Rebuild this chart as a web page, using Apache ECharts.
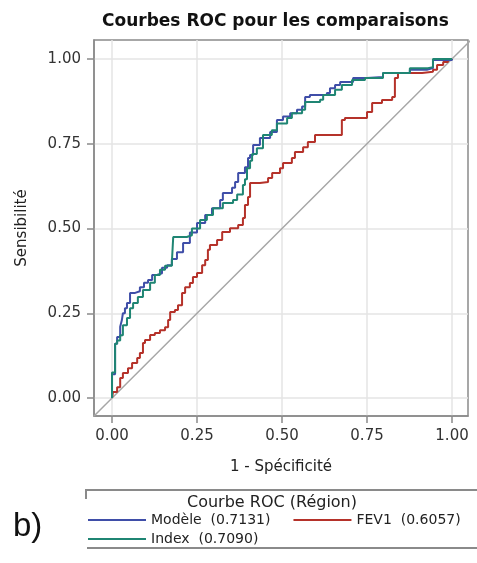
<!DOCTYPE html>
<html>
<head>
<meta charset="utf-8">
<script src="https://cdn.jsdelivr.net/npm/echarts@6/dist/echarts.min.js"></script>
<style>
html,body{margin:0;padding:0;background:#fff;}
#chart{width:477px;height:563px;}
</style>
</head>
<body>
<div id="chart"></div>
<script>
const seriesNames = ['Modèle', 'Index', 'FEV1'];
const aucValues = ['0.7131', '0.7090', '0.6057'];
const tickValues = [0, 0.25, 0.5, 0.75, 1];

const modelePoints = [[0,0],[0,0.07],[0.009,0.16],[0.015,0.18],[0.024,0.21],[0.029,0.23],[0.032,0.25],[0.038,0.265],[0.044,0.28],[0.053,0.31],[0.068,0.315],[0.082,0.327],[0.094,0.34],[0.106,0.348],[0.118,0.363],[0.132,0.368],[0.147,0.384],[0.162,0.392],[0.176,0.41],[0.191,0.43],[0.209,0.457],[0.229,0.488],[0.25,0.516],[0.274,0.54],[0.294,0.56],[0.318,0.584],[0.326,0.605],[0.353,0.62],[0.362,0.637],[0.371,0.664],[0.391,0.681],[0.4,0.708],[0.406,0.717],[0.415,0.746],[0.435,0.767],[0.465,0.785],[0.485,0.82],[0.503,0.83],[0.524,0.84],[0.544,0.85],[0.559,0.86],[0.568,0.888],[0.582,0.894],[0.632,0.9],[0.641,0.914],[0.656,0.923],[0.671,0.932],[0.709,0.944],[0.75,0.947],[0.797,0.959],[0.876,0.968],[0.926,0.973],[0.944,0.997],[1,1]];

const indexPoints = [[0,0],[0,0.075],[0.009,0.16],[0.015,0.17],[0.024,0.185],[0.032,0.215],[0.044,0.236],[0.053,0.265],[0.062,0.28],[0.076,0.298],[0.091,0.319],[0.112,0.34],[0.126,0.363],[0.141,0.378],[0.156,0.39],[0.176,0.40],[0.18,0.475],[0.22,0.48],[0.235,0.5],[0.259,0.525],[0.279,0.54],[0.297,0.56],[0.326,0.575],[0.356,0.584],[0.368,0.6],[0.385,0.628],[0.391,0.645],[0.397,0.678],[0.406,0.70],[0.412,0.72],[0.426,0.737],[0.444,0.776],[0.47,0.79],[0.485,0.81],[0.515,0.826],[0.529,0.84],[0.559,0.85],[0.568,0.873],[0.612,0.88],[0.621,0.894],[0.656,0.909],[0.676,0.923],[0.706,0.938],[0.744,0.944],[0.797,0.959],[0.876,0.973],[0.929,0.976],[0.944,1],[1,1]];

const fev1Points = [[0,0],[0.003,0.018],[0.015,0.032],[0.024,0.059],[0.032,0.074],[0.047,0.088],[0.059,0.103],[0.074,0.118],[0.082,0.133],[0.091,0.162],[0.097,0.171],[0.112,0.186],[0.126,0.192],[0.141,0.2],[0.156,0.209],[0.165,0.23],[0.171,0.254],[0.185,0.26],[0.194,0.274],[0.206,0.31],[0.215,0.327],[0.229,0.339],[0.238,0.357],[0.25,0.369],[0.265,0.392],[0.274,0.407],[0.282,0.437],[0.288,0.451],[0.309,0.466],[0.324,0.49],[0.347,0.501],[0.371,0.51],[0.385,0.531],[0.391,0.569],[0.4,0.593],[0.406,0.634],[0.435,0.637],[0.459,0.649],[0.471,0.664],[0.494,0.678],[0.503,0.693],[0.529,0.708],[0.538,0.726],[0.562,0.74],[0.576,0.755],[0.597,0.776],[0.676,0.82],[0.685,0.826],[0.75,0.844],[0.765,0.87],[0.794,0.879],[0.824,0.888],[0.832,0.944],[0.841,0.959],[0.912,0.962],[0.944,0.968],[0.956,0.982],[0.974,0.991],[0.988,1],[1,1]];

const diagonalPoints = [[-0.06,-0.06],[1.06,1.06]];

const colors = { 'Modèle': '#3f4ea8', 'Index': '#1f8573', 'FEV1': '#b5322a' };
const FONT = 'DejaVu Sans';

const chart = echarts.init(document.getElementById('chart'), null, {renderer: 'canvas'});

function axisCommon(name, min, max) {
  return {
    type: 'value',
    min: min,
    max: max,
    name: name,
    nameLocation: 'middle',
    nameTextStyle: {fontFamily: FONT, fontSize: 15, color: '#222'},
    axisLine: {show: true, onZero: false, lineStyle: {color: '#8a8a8a', width: 1.5}},
    axisTick: {show: true, customValues: tickValues, length: 7, lineStyle: {color: '#8a8a8a', width: 1.5}},
    axisLabel: {customValues: tickValues, fontFamily: FONT, fontSize: 15, color: '#333', margin: 13,
      formatter: v => Number(v).toFixed(2)},
    splitLine: {show: true, lineStyle: {color: '#e4e4e4', width: 1.5}}
  };
}

const lineSeries = [
  {name: 'FEV1', data: fev1Points},
  {name: 'Modèle', data: modelePoints},
  {name: 'Index', data: indexPoints}
].map(s => ({
  type: 'line',
  name: s.name,
  data: s.data,
  step: 'end',
  showSymbol: false,
  symbol: 'none',
  silent: true,
  animation: false,
  lineStyle: {color: colors[s.name], width: 2},
  itemStyle: {color: colors[s.name]},
  z: 3
}));

function legendLabel(name) {
  return name + '  (' + aucValues[seriesNames.indexOf(name)] + ')';
}

const legendBase = {
  orient: 'horizontal',
  icon: 'rect',
  itemWidth: 58,
  itemHeight: 2,
  itemGap: 23,
  padding: 0,
  selectedMode: false,
  formatter: legendLabel,
  textStyle: {fontFamily: FONT, fontSize: 14, color: '#222', padding: [0,0,0,0]}
};

chart.setOption({
  animation: false,
  title: {
    text: 'Courbes ROC pour les comparaisons',
    left: 97,
    top: 8,
    textStyle: {fontFamily: FONT, fontSize: 17, fontWeight: 'bold', color: '#111'}
  },
  grid: {left: 94, top: 40, width: 374, height: 376, show: true, borderColor: '#8a8a8a', borderWidth: 1.5, containLabel: false},
  xAxis: Object.assign(axisCommon('1 - Spécificité', -0.053, 1.047), {nameGap: 44}),
  yAxis: Object.assign(axisCommon('Sensibilité', -0.053, 1.056), {nameGap: 64}),
  legend: [
    Object.assign({}, legendBase, {data: ['Modèle', 'FEV1'], left: 88, top: 513}),
    Object.assign({}, legendBase, {data: ['Index'], left: 88, top: 532})
  ],
  graphic: [
    {type: 'line', shape: {x1: 86, y1: 490, x2: 477, y2: 490}, style: {stroke: '#8a8a8a', lineWidth: 2}},
    {type: 'line', shape: {x1: 86, y1: 489, x2: 86, y2: 499}, style: {stroke: '#8a8a8a', lineWidth: 2}},
    {type: 'line', shape: {x1: 87, y1: 548, x2: 477, y2: 548}, style: {stroke: '#8a8a8a', lineWidth: 2}},
    {type: 'text', x: 272, y: 503, style: {text: 'Courbe ROC (Région)', fontFamily: FONT, fontSize: 16, fill: '#222', textAlign: 'center', textVerticalAlign: 'middle'}},
    {type: 'text', x: 13, y: 527, style: {text: 'b)', fontFamily: 'Liberation Sans', fontSize: 33, fill: '#111', textAlign: 'left', textVerticalAlign: 'middle'}}
  ],
  series: [
    {
      type: 'line',
      name: 'diagonal',
      data: diagonalPoints,
      showSymbol: false,
      symbol: 'none',
      silent: true,
      clip: true,
      lineStyle: {color: '#a6a6a6', width: 1.5},
      z: 2
    }
  ].concat(lineSeries)
});
</script>
</body>
</html>
